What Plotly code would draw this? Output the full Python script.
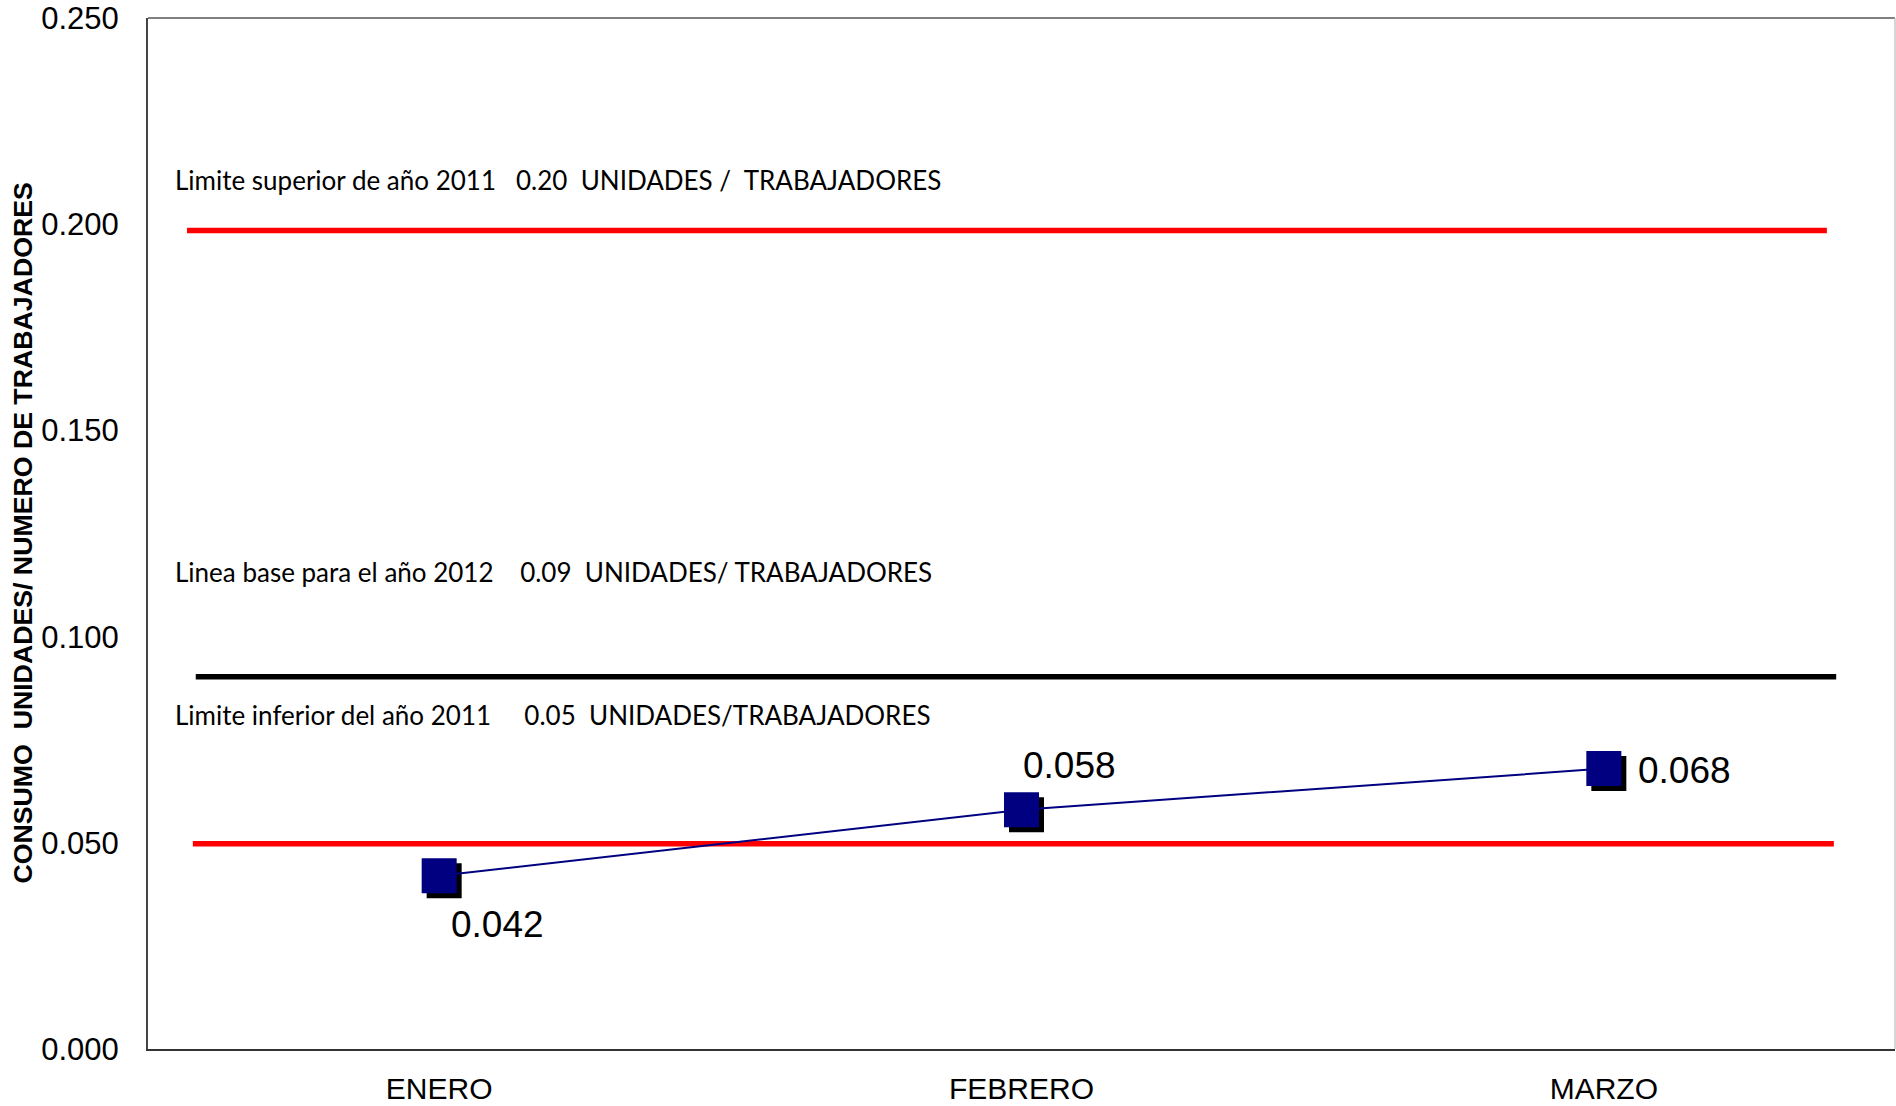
import plotly.graph_objects as go

# ---- data ----
months = ["ENERO", "FEBRERO", "MARZO"]
consumo = [0.042, 0.058, 0.068]
data_labels = ["0.042", "0.058", "0.068"]

limit_values = [0.1985, 0.0903, 0.0498]
limit_colors = ["#ff0000", "#000000", "#ff0000"]
limit_x_start = [-0.433, -0.418, -0.423]
limit_x_end = [2.383, 2.399, 2.395]
limit_texts = [
    "Limite superior de año 2011   0.20  UNIDADES /  TRABAJADORES",
    "Linea base para el año 2012    0.09  UNIDADES/ TRABAJADORES",
    "Limite inferior del año 2011     0.05  UNIDADES/TRABAJADORES",
]
limit_text_y = [0.8424, 0.4623, 0.324]

y_ticks = [0.0, 0.05, 0.10, 0.15, 0.20, 0.25]
y_ticktext = ["0.000", "0.050", "0.100", "0.150", "0.200", "0.250"]

x_idx = list(range(len(months)))

fig = go.Figure()

# reference lines
for v, c, xs, xe in zip(limit_values, limit_colors, limit_x_start, limit_x_end):
    fig.add_trace(go.Scatter(x=[xs, xe], y=[v, v], mode="lines",
                             line=dict(color=c, width=5.5), hoverinfo="skip",
                             showlegend=False))

# marker shadows (offset ~5 px)
dx = 5 / 582
dy = 5 / 1034 * 0.25
fig.add_trace(go.Scatter(x=[i + dx for i in x_idx], y=[v - dy for v in consumo],
                         mode="markers",
                         marker=dict(symbol="square", size=35, color="#000000",
                                     line=dict(width=0)),
                         showlegend=False, hoverinfo="skip"))

# main series
fig.add_trace(go.Scatter(x=x_idx, y=consumo, mode="lines+markers",
                         line=dict(color="#000080", width=2),
                         marker=dict(symbol="square", size=35, color="#000080",
                                     line=dict(width=0)),
                         showlegend=False))

# data labels
shifts = [(58, -49), (48, 44), (81, -2)]
for i, (v, t, (xs, ys)) in enumerate(zip(consumo, data_labels, shifts)):
    fig.add_annotation(x=i, y=v, xref="x", yref="y", text=t, showarrow=False,
                       xshift=xs, yshift=ys,
                       font=dict(family="Liberation Sans, Arial", size=37, color="#000000"))

# limit line texts
for t, yy in zip(limit_texts, limit_text_y):
    fig.add_annotation(x=0.0141, y=yy, xref="paper", yref="paper",
                       text=t.replace(" ", "\u00a0"), showarrow=False,
                       xanchor="left", yanchor="middle",
                       font=dict(family="Lato", size=26, color="#000000"))

# y title
fig.add_annotation(x=-0.0721, y=0.5, xref="paper", yref="paper",
                   text="CONSUMO\u00a0\u00a0UNIDADES/ NUMERO DE TRABAJADORES",
                   textangle=-90, showarrow=False, xanchor="center", yanchor="middle",
                   font=dict(family="Liberation Sans, Arial", size=26.7, color="#000000",
                             weight="bold"))

# frame top / right
fig.add_shape(type="line", xref="paper", yref="paper", x0=0, x1=1, y0=1, y1=1,
              line=dict(color="#808080", width=2))
fig.add_shape(type="line", xref="paper", yref="paper", x0=1, x1=1, y0=0, y1=1,
              line=dict(color="#c8c8c8", width=1.5))

fig.update_layout(
    width=1896, height=1106,
    margin=dict(l=148, r=1, t=16, b=56),
    paper_bgcolor="white", plot_bgcolor="white",
    showlegend=False,
    xaxis=dict(range=[-0.5, 2.5], tickmode="array", tickvals=x_idx, ticktext=months,
               showgrid=False, zeroline=False, showline=True, linecolor="#333333",
               linewidth=2, ticks="", ticklabelstandoff=12, ticklabeloverflow="allow",
               tickfont=dict(family="Liberation Sans, Arial", size=30, color="#000000")),
    yaxis=dict(range=[0, 0.25005], tickmode="array", tickvals=y_ticks, ticktext=y_ticktext,
               showgrid=False, zeroline=False, showline=True, linecolor="#444444",
               linewidth=2, ticks="", ticklabelstandoff=21, ticklabeloverflow="allow",
               tickfont=dict(family="Liberation Sans, Arial", size=31, color="#000000")),
)

fig.write_html("out.html", config={"displayModeBar": False},
               post_script="document.body.style.margin='0px';document.body.style.overflow='hidden';")
